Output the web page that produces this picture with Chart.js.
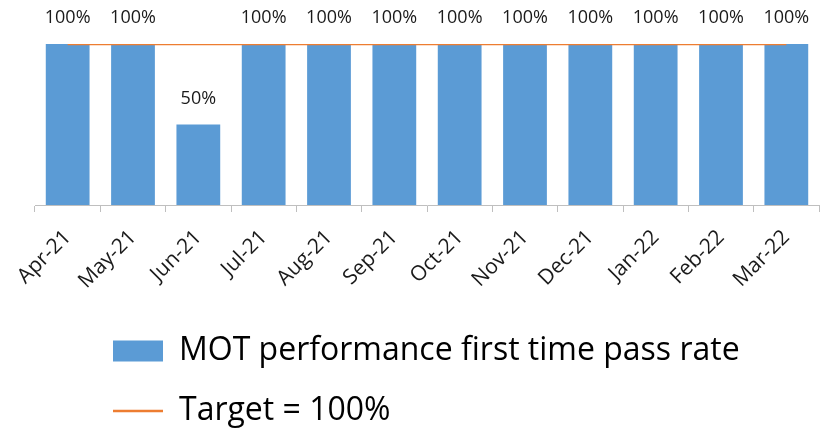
<!DOCTYPE html>
<html>
<head>
<meta charset="utf-8">
<script src="https://cdn.jsdelivr.net/npm/chart.js@4/dist/chart.umd.min.js"></script>
<style>
  html, body { margin: 0; padding: 0; background: #fff; }
  #wrap { width: 825px; height: 428px; }
</style>
</head>
<body>
<div id="wrap"><canvas id="c" width="825" height="428"></canvas></div>
<script>
const months = ['Apr-21', 'May-21', 'Jun-21', 'Jul-21', 'Aug-21', 'Sep-21',
                'Oct-21', 'Nov-21', 'Dec-21', 'Jan-22', 'Feb-22', 'Mar-22'];
const passRate = [1, 1, 0.5, 1, 1, 1, 1, 1, 1, 1, 1, 1];
const target = [1, 1, 1, 1, 1, 1, 1, 1, 1, 1, 1, 1];
const seriesNames = ['MOT performance first time pass rate', 'Target = 100%'];

const FONT = '"Open Sans", "Liberation Sans", sans-serif';

// Percentage labels above each bar of the pass-rate series
const barLabels = {
  id: 'barLabels',
  afterDatasetsDraw(chart) {
    const idx = chart.data.datasets.findIndex(d => d.type === 'bar');
    const meta = chart.getDatasetMeta(idx);
    const values = chart.data.datasets[idx].data;
    const ctx = chart.ctx;
    ctx.save();
    ctx.font = '18px ' + FONT;
    ctx.fillStyle = '#1a1a1a';
    ctx.textAlign = 'center';
    ctx.textBaseline = 'middle';
    meta.data.forEach((bar, i) => {
      ctx.fillText(Math.round(values[i] * 100) + '%', bar.x, bar.y - 26);
    });
    ctx.restore();
  }
};

// Moves the legend block so both rows start from the same left edge
const legendPlace = {
  id: 'legendPlace',
  afterLayout(chart) {
    const lg = chart.legend;
    lg.left += 50; lg.right += 50;
    lg.top += 9; lg.bottom += 9;
  }
};

new Chart(document.getElementById('c'), {
  data: {
    labels: months,
    datasets: [
      {
        type: 'line',
        label: seriesNames[1],
        data: target,
        borderColor: '#ED7D31',
        backgroundColor: '#ED7D31',
        borderWidth: 2.5,
        pointRadius: 0,
        pointStyle: 'line',
        order: 0
      },
      {
        type: 'bar',
        label: seriesNames[0],
        data: passRate,
        backgroundColor: '#5B9BD5',
        borderWidth: 0,
        barPercentage: 0.67,
        categoryPercentage: 1,
        pointStyle: 'rect',
        order: 1
      }
    ]
  },
  plugins: [barLabels, legendPlace],
  options: {
    responsive: false,
    animation: false,
    layout: { padding: { left: 35, right: 6, top: 44, bottom: 0 } },
    scales: {
      x: {
        offset: true,
        grid: {
          offset: true,
          drawOnChartArea: false,
          tickLength: 7,
          color: '#bfbfbf'
        },
        border: { color: '#bfbfbf', width: 1 },
        ticks: {
          autoSkip: false,
          minRotation: 45,
          maxRotation: 45,
          color: '#1a1a1a',
          font: { family: FONT, size: 21 },
          padding: 13
        },
        afterFit(scale) { scale.height = 93; }
      },
      y: {
        display: false,
        min: 0,
        max: 1
      }
    },
    plugins: {
      tooltip: { enabled: false },
      legend: {
        position: 'bottom',
        align: 'start',
        reverse: true,
        labels: {
          usePointStyle: true,
          pointStyleWidth: 50,
          boxHeight: 21,
          padding: 28,
          color: '#000',
          font: { family: FONT, size: 32 }
        }
      }
    }
  }
});
</script>
</body>
</html>
